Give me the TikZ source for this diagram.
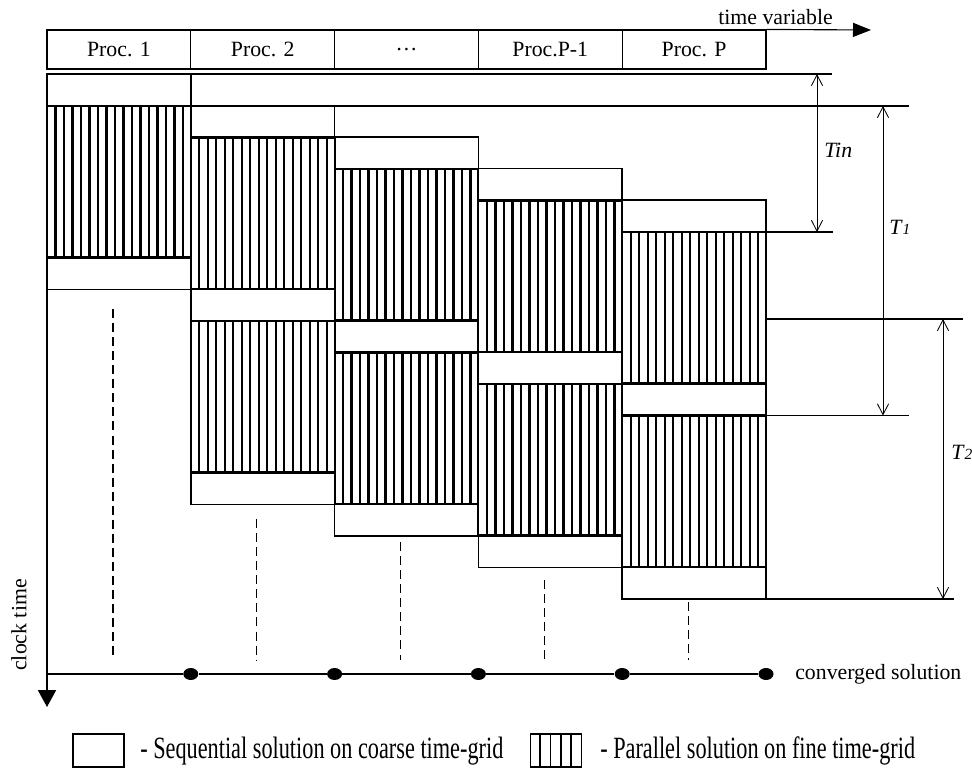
\documentclass[tikz,border=0pt]{standalone}
\usepackage{fontspec}
\setmainfont{Liberation Serif}
\newfontfamily\keyfont[FakeStretch=0.72]{Liberation Serif}
\usetikzlibrary{arrows.meta,shapes.geometric}

\tikzset{
  cell/.style={draw,line width=0.8pt,minimum width=3.595cm,minimum height=0.975cm,inner sep=0pt},
  coarse/.style={draw,line width=1.1pt},
  fine/.style={draw,line width=1.5pt},
  stripe/.style={line width=1.6pt},
  guide/.style={line width=0.9pt},
  dim/.style={line width=0.6pt,{Straight Barb[length=0.27cm,width=0.28cm]}-{Straight Barb[length=0.27cm,width=0.28cm]}},
  dot/.style={ellipse,fill,inner sep=0pt,minimum width=0.375cm,minimum height=0.3cm},
  lbl/.style={inner sep=0pt,font=\fontsize{15.5}{18}\selectfont},
  keybox/.style={draw,line width=0.8pt,minimum width=1.275cm,minimum height=0.825cm,inner sep=0pt},
  keytext/.style={inner sep=0pt,font=\keyfont\fontsize{22}{24}\selectfont},
}

\begin{document}
\begin{tikzpicture}[x=0.025cm,y=-0.025cm]
  \useasboundingbox (0,0) rectangle (972,768);

  \foreach[count=\xi,evaluate={47+(\xi-0.5)*143.8} as \px] \x in {Proc. 1,Proc. 2,\dots,Proc.P-1,Proc. P}
    \node[cell,lbl] (proc\xi) at (\px,49.5) {\x};
  \coordinate (tvend) at (871,30);
  \draw[line width=0.8pt,-{Triangle[length=0.45cm,width=0.35cm]}] (proc5.north east) -- (tvend);
  \node[lbl,anchor=base east] (tvlabel) at (833,25) {time variable};

  \coordinate (axtop) at (47,74);
  \coordinate (toprow) at (832,74);
  \draw[line width=1.6pt] (axtop) -- (toprow);

  \foreach[count=\ci,evaluate={47+(\ci-1)*143.8} as \cx,evaluate={74+(\ci-1)*31.5} as \ct] \nc in {1,2,2,2,2} {
    \foreach[evaluate={\ct+(\k-1)*183.5} as \ya,evaluate={\ya+32} as \yb,evaluate={\yb+151.5} as \yc] \k in {1,...,\nc} {
      \draw[coarse] (\cx,\ya) rectangle (\cx+143.8,\yb);
      \foreach \s in {1,...,16}
        \draw[stripe] (\cx+\s*8.5,\yb) -- (\cx+\s*8.5,\yc);
      \draw[fine] (\cx,\yb) rectangle (\cx+143.8,\yc);
    }
    \draw[coarse] (\cx,\ct+\nc*183.5) rectangle (\cx+143.8,\ct+\nc*183.5+32);
  }

  \coordinate (tinA) at (190.8,106);
  \coordinate (tinB) at (909,106);
  \draw[guide] (tinA) -- (tinB);
  \coordinate (fineA) at (766,232);
  \coordinate (fineB) at (833,232);
  \draw[guide] (fineA) -- (fineB);
  \coordinate (twoA) at (766,319);
  \coordinate (twoB) at (963,319);
  \draw[guide] (twoA) -- (twoB);
  \coordinate (oneA) at (766,415.5);
  \coordinate (oneB) at (909,415.5);
  \draw[guide] (oneA) -- (oneB);
  \coordinate (endA) at (622,599);
  \coordinate (endB) at (954,599);
  \draw[line width=1.2pt] (endA) -- (endB);

  \coordinate (dimTinA) at (817,74);
  \coordinate (dimTinB) at (817,232);
  \draw[dim] (dimTinA) -- (dimTinB);
  \coordinate (dimOneA) at (883,106);
  \coordinate (dimOneB) at (883,415.5);
  \draw[dim] (dimOneA) -- (dimOneB);
  \coordinate (dimTwoA) at (943,319);
  \coordinate (dimTwoB) at (943,599);
  \draw[dim] (dimTwoA) -- (dimTwoB);
  \node[lbl,anchor=west] (tin) at (824,150) {\textit{Tin}};
  \node[lbl,anchor=west] (tone) at (889,227) {\textit{T}{\itshape\fontsize{11}{11}\selectfont 1}};
  \node[lbl,anchor=west] (ttwo) at (951,452) {\textit{T}{\itshape\fontsize{11}{11}\selectfont 2}};

  \foreach[count=\xi,evaluate={47+(\xi-1)*143.8+66} as \dx] \dy in {309,519,542,580,602}
    \draw[dashed,dash pattern=on 6.4pt off 3.6pt,line width=0.8pt] (\dx,\dy) -- (\dx,660);

  \coordinate (origin) at (47,674);
  \foreach \i in {1,...,5}
    \node[dot] (sol\i) at (47+\i*143.8,674) {};
  \draw[line width=1.3pt] (origin) -- (sol1) -- (sol2) -- (sol3) -- (sol4) -- (sol5);
  \node[lbl,anchor=west] (conv) at (795,674) {converged solution};

  \coordinate (axend) at (47,707);
  \draw[line width=0.9pt,-{Triangle[length=0.42cm,width=0.45cm]}] (axtop) -- (axend);
  \node[lbl,rotate=90] (clock) at (19,625) {clock time};

  \node[keybox] (seqkey) at (98.5,750.5) {};
  \node[keytext,anchor=west] (seqtext) at (140,751) {- Sequential solution on coarse time-grid};
  \node[keybox] (parkey) at (556,750.5) {};
  \foreach \s in {1,...,4}
    \draw[line width=1.3pt] ([xshift=\s*0.2575cm]parkey.north west) -- ([xshift=\s*0.2575cm]parkey.south west);
  \node[keytext,anchor=west] (partext) at (600,751) {- Parallel solution on fine time-grid};
\end{tikzpicture}
\end{document}
